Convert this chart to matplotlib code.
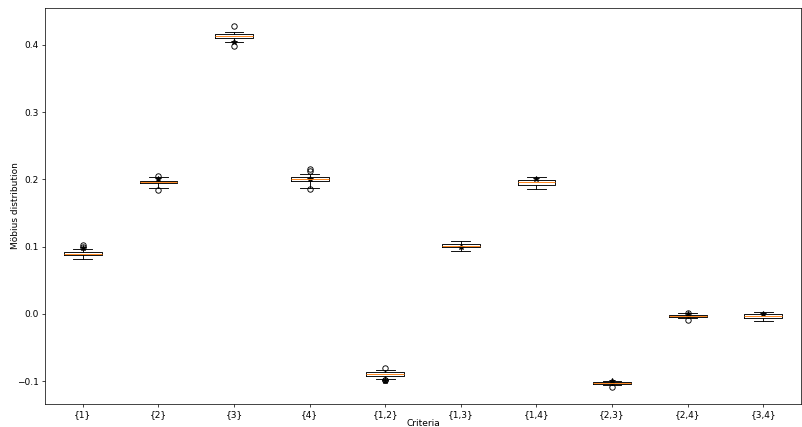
import matplotlib
matplotlib.use("Agg")
import matplotlib.pyplot as plt

categories = ["{1}", "{2}", "{3}", "{4}", "{1,2}", "{1,3}", "{1,4}", "{2,3}", "{2,4}", "{3,4}"]
q1 = [0.087, 0.194, 0.410, 0.197, -0.092, 0.099, 0.191, -0.104, -0.004, -0.006]
med = [0.089, 0.196, 0.414, 0.200, -0.089, 0.101, 0.196, -0.103, -0.003, -0.003]
q3 = [0.092, 0.198, 0.416, 0.203, -0.087, 0.104, 0.199, -0.102, -0.002, 0.000]
whislo = [0.081, 0.187, 0.405, 0.188, -0.097, 0.094, 0.186, -0.105, -0.006, -0.010]
whishi = [0.097, 0.203, 0.420, 0.208, -0.084, 0.108, 0.203, -0.100, 0.001, 0.003]
fliers = [[0.100, 0.103], [0.205, 0.184], [0.428, 0.398], [0.212, 0.215, 0.186],
          [-0.080, -0.098, -0.099], [], [], [-0.108], [0.002, -0.009], []]
true_vals = [0.098, 0.200, 0.405, 0.200, -0.100, 0.099, 0.200, -0.100, 0.000, 0.000]

DPI = 65
fig = plt.figure(figsize=(802 / DPI, 427 / DPI), dpi=DPI)
ax = fig.add_axes([45 / 802, (427 - 404) / 427, 756 / 802, (404 - 8) / 427])

stats = []
for i, c in enumerate(categories):
    stats.append(dict(label=c, q1=q1[i], med=med[i], q3=q3[i],
                      whislo=whislo[i], whishi=whishi[i], fliers=fliers[i]))
ax.bxp(stats, positions=range(1, len(categories) + 1), widths=0.5)
ax.plot(range(1, len(categories) + 1), true_vals, linestyle="none", marker="*",
        color="black", markersize=6)

ax.set_xlim(0.5, 10.5)
ax.set_ylim(-0.134, 0.455)
ax.set_yticks([-0.1, 0.0, 0.1, 0.2, 0.3, 0.4])
ax.set_xlabel("Criteria", labelpad=0)
ax.set_ylabel("Möbius distribution", labelpad=-3)

fig.savefig("out.png", dpi=DPI)
